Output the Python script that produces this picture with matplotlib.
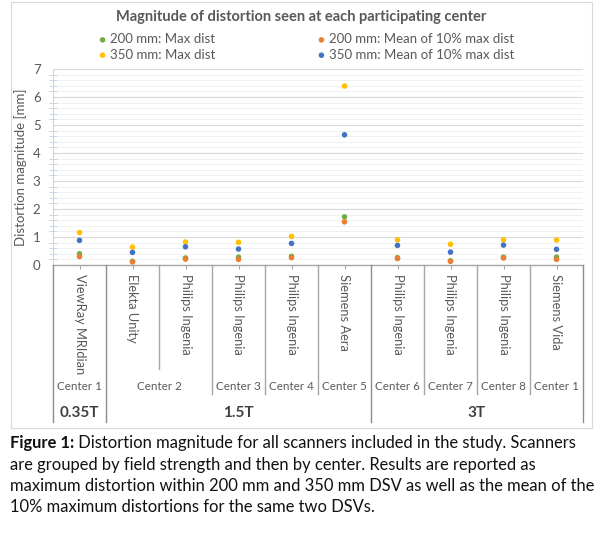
import matplotlib
matplotlib.use("Agg")
import matplotlib.pyplot as plt
import matplotlib.transforms as mtransforms
from matplotlib.lines import Line2D
from matplotlib.patches import Rectangle
import numpy as np

# ---------------- data ----------------
scanners = ["ViewRay MRIdian", "Elekta Unity", "Philips Ingenia", "Philips Ingenia",
            "Philips Ingenia", "Siemens Aera", "Philips Ingenia", "Philips Ingenia",
            "Philips Ingenia", "Siemens Vida"]
center_names = ["Center 1", "Center 2", "Center 3", "Center 4", "Center 5",
                "Center 6", "Center 7", "Center 8", "Center 1"]
center_sizes = [1, 2, 1, 1, 1, 1, 1, 1, 1]
field_names = ["0.35T", "1.5T", "3T"]
field_sizes = [1, 5, 4]

max200 = [0.40, 0.13, 0.25, 0.28, 0.31, 1.72, 0.26, 0.15, 0.28, 0.28]
mean200 = [0.30, 0.11, 0.21, 0.20, 0.26, 1.54, 0.23, 0.13, 0.25, 0.20]
max350 = [1.16, 0.64, 0.82, 0.81, 1.02, 6.39, 0.90, 0.74, 0.90, 0.89]
mean350 = [0.88, 0.45, 0.65, 0.57, 0.77, 4.65, 0.70, 0.46, 0.71, 0.56]

series_labels = ["200 mm: Max dist", "200 mm: Mean of 10% max dist",
                 "350 mm: Max dist", "350 mm: Mean of 10% max dist"]
colors = ["#70AD47", "#ED7D31", "#FFC000", "#4472C4"]

title = "Magnitude of distortion seen at each participating center"
ylabel = "Distortion magnitude [mm]"
caption_bold = "Figure 1:"
caption_lines = [
    " Distortion magnitude for all scanners included in the study. Scanners",
    "are grouped by field strength and then by center. Results are reported as",
    "maximum distortion within 200 mm and 350 mm DSV as well as the mean of the",
    "10% maximum distortions for the same two DSVs.",
]

# ---------------- figure ----------------
W, H = 600, 543
plt.rcParams["font.family"] = ["Lato", "DejaVu Sans"]
fig = plt.figure(figsize=(W / 100, H / 100), dpi=100)
fig.patch.set_facecolor("white")

def fy(py):
    return 1 - py / H

def fx(px):
    return px / W

# chart border
fig.add_artist(Rectangle((fx(11), fy(428)), fx(592) - fx(11), fy(2) - fy(428),
                         transform=fig.transFigure, fill=False,
                         edgecolor="#D9D9D9", linewidth=0.8))

ax = fig.add_axes([fx(53), fy(265), fx(583) - fx(53), fy(69) - fy(265)])
n = len(scanners)
x = np.arange(1, n + 1)
ax.set_xlim(0.5, n + 0.5)
ax.set_ylim(0, 7)

for vals, c, lab in zip([max200, mean200, max350, mean350], colors, series_labels):
    ax.scatter(x, vals, s=16, color=c, label=lab, zorder=3, edgecolors="none")

ax.set_yticks(range(0, 8))
ax.set_yticks(np.arange(0, 7.01, 0.2), minor=True)
ax.grid(True, which="major", axis="y", color="#D9D9D9", linewidth=0.8)
ax.grid(True, which="minor", axis="y", color="#F0F0F0", linewidth=0.7)
ax.set_axisbelow(True)
ax.tick_params(axis="y", which="major", length=0, labelsize=9.5, labelcolor="#595959", pad=9)
ax.tick_params(axis="y", which="minor", length=6, direction="inout", color="#C9D7EA", width=0.7)
ax.tick_params(axis="x", which="major", length=3, color="#A6A6A6", labelbottom=False)
ax.set_xticks(x)
for s in ["top", "right"]:
    ax.spines[s].set_visible(False)
ax.spines["left"].set_color("#C9D7EA")
ax.spines["left"].set_linewidth(0.8)
ax.spines["bottom"].set_color("#A6A6A6")
ax.spines["bottom"].set_linewidth(1.0)

fig.text(fx(21), fy(167), ylabel, rotation=90, ha="center", va="center",
         fontsize=9.5, color="#595959")

# title & legend
fig.text(fx(301), fy(17), title, ha="center", va="center", fontsize=10.5,
         fontweight="bold", color="#595959")
h, l = ax.get_legend_handles_labels()
order = [0, 2, 1, 3]
leg = fig.legend([h[i] for i in order], [l[i] for i in order], ncol=2,
                 loc="center", bbox_to_anchor=(fx(306), fy(47)), frameon=False,
                 fontsize=9.5, labelcolor="#595959", handletextpad=0.2,
                 columnspacing=7.6, handlelength=0.8, markerscale=1.0,
                 borderaxespad=0, labelspacing=0.25)

# multi-level category axis
tr = mtransforms.blended_transform_factory(ax.transData, fig.transFigure)
line_col = "#A6A6A6"
for i, name in enumerate(scanners):
    fig.text(x[i], fy(274), name, rotation=-90, ha="center", va="top",
             fontsize=9.3, color="#595959", transform=tr)

bounds_scanner = [0.5 + k for k in range(n + 1)]
bounds_center = [0.5] + list(0.5 + np.cumsum(center_sizes))
bounds_field = [0.5] + list(0.5 + np.cumsum(field_sizes))
for b in bounds_scanner:
    bottom = 369
    if any(abs(b - c) < 1e-6 for c in bounds_center):
        bottom = 394
    if any(abs(b - c) < 1e-6 for c in bounds_field):
        bottom = 422
    col = "#8C8C8C" if bottom == 422 else line_col
    fig.add_artist(Line2D([b, b], [fy(265), fy(bottom)], transform=tr,
                          color=col, linewidth=1.0))

pos = 0.5
for name, sz in zip(center_names, center_sizes):
    fig.text(pos + sz / 2, fy(386), name, ha="center", va="center",
             fontsize=8.4, color="#595959", transform=tr)
    pos += sz
pos = 0.5
for name, sz in zip(field_names, field_sizes):
    fig.text(pos + sz / 2, fy(413), name, ha="center", va="center",
             fontsize=11, fontweight="bold", color="#404040", transform=tr)
    pos += sz

# caption
cap_y = [443, 465, 486, 507]
fig.canvas.draw()
r = fig.canvas.get_renderer()
cap_fs = 11.9
tb = fig.text(fx(10), fy(cap_y[0]), caption_bold, ha="left", va="center",
              fontsize=cap_fs, fontweight="bold", color="#111111")
bb = tb.get_window_extent(renderer=r)
fig.text(bb.x1 / W, fy(cap_y[0]), caption_lines[0], ha="left", va="center",
         fontsize=cap_fs, color="#111111")
for yy, line in zip(cap_y[1:], caption_lines[1:]):
    fig.text(fx(10), fy(yy), line, ha="left", va="center", fontsize=cap_fs, color="#111111")

fig.savefig("out.png", dpi=100)
